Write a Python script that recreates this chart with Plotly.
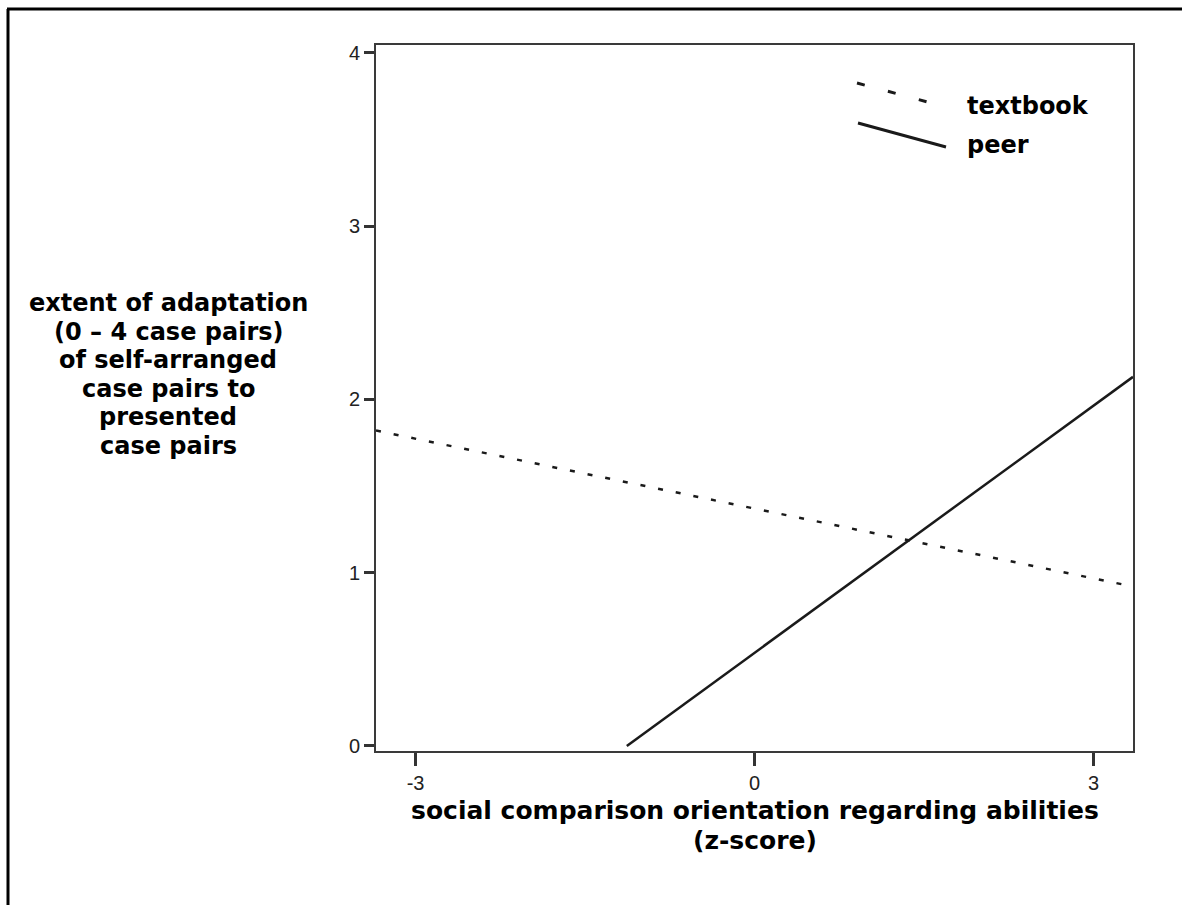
import plotly.graph_objects as go

# ---- data ----
x_ticks = [-3, 0, 3]
x_tick_labels = ["-3", "0", "3"]
y_ticks = [0, 1, 2, 3, 4]
textbook_x = [-3.35, 3.35]
textbook_y = [1.82, 0.92]
peer_x = [-1.13, 3.35]
peer_y = [0.0, 2.13]
series_names = ["textbook", "peer"]
y_title_lines = ["extent of adaptation", "(0 \u2013 4 case pairs)", "of self-arranged",
                 "case pairs to", "presented", "case pairs"]
x_title_lines = ["social comparison orientation regarding abilities", "(z-score)"]

W, H = 1182, 905
L, R, T, B = 376, 1133, 45, 751

def px(x):
    return (x - L) / (R - L)

def py(y):
    return (B - y) / (B - T)

TICK_FONT = "Liberation Sans, Arial, sans-serif"
TITLE_FONT = "DejaVu Sans, Arial Black, sans-serif"
LINE_COL = "#1a1a1a"

fig = go.Figure()
fig.add_trace(go.Scatter(x=textbook_x, y=textbook_y, mode="lines", name=series_names[0],
                         line=dict(color=LINE_COL, width=2.5, dash="5px,13px"), showlegend=False))
fig.add_trace(go.Scatter(x=peer_x, y=peer_y, mode="lines", name=series_names[1],
                         line=dict(color=LINE_COL, width=2.5), showlegend=False))

axis_common = dict(showline=True, mirror=True, linewidth=2, linecolor="#3a3a3a",
                   showgrid=False, zeroline=False, ticks="outside", tickwidth=2.5,
                   tickcolor="#333333", tickfont=dict(family=TICK_FONT, size=20, color="#222222"))
fig.update_xaxes(range=[-3.35, 3.35], tickvals=x_ticks, ticktext=x_tick_labels, ticklen=13, **axis_common)
fig.update_yaxes(range=[-0.029, 4.045], tickvals=y_ticks, ticklen=10, **axis_common)

ann = []
y_title_px = [303, 331.5, 360, 388.5, 417, 445.5]
for t, yy in zip(y_title_lines, y_title_px):
    ann.append(dict(text=t, x=px(168), y=py(yy), xref="paper", yref="paper",
                    showarrow=False, xanchor="center", yanchor="middle",
                    font=dict(family=TITLE_FONT, size=24, color="black", weight="bold")))
for t, yy in zip(x_title_lines, [810, 840]):
    ann.append(dict(text=t, x=px(755), y=py(yy), xref="paper", yref="paper",
                    showarrow=False, xanchor="center", yanchor="middle",
                    font=dict(family=TITLE_FONT, size=25, color="black", weight="bold")))
for t, yy in zip(series_names, [106, 145]):
    ann.append(dict(text=t, x=px(965), y=py(yy), xref="paper", yref="paper",
                    showarrow=False, xanchor="left", yanchor="middle",
                    font=dict(family=TITLE_FONT, size=24, color="black", weight="bold")))

shapes = [
    # legend symbols
    dict(type="line", xref="paper", yref="paper", x0=px(857), y0=py(83), x1=px(935), y1=py(104),
         line=dict(color=LINE_COL, width=3, dash="8px,24px")),
    dict(type="line", xref="paper", yref="paper", x0=px(858), y0=py(123), x1=px(946), y1=py(147),
         line=dict(color=LINE_COL, width=3)),
    # outer frame (left and top)
    dict(type="line", xref="paper", yref="paper", x0=px(8), y0=py(9), x1=px(8), y1=py(905),
         line=dict(color="black", width=3)),
    dict(type="line", xref="paper", yref="paper", x0=px(7), y0=py(9), x1=px(1182), y1=py(9),
         line=dict(color="black", width=3)),
]

fig.update_layout(width=W, height=H, margin=dict(l=L, r=W - R, t=T, b=H - B),
                  paper_bgcolor="white", plot_bgcolor="white",
                  annotations=ann, shapes=shapes, showlegend=False)
fig.write_html("out.html", config={"displayModeBar": False},
               post_script="document.body.style.margin='0px';")
